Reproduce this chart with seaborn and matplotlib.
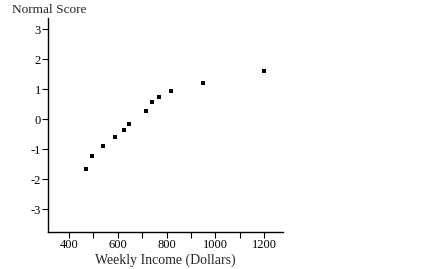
import matplotlib
matplotlib.use("Agg")
import matplotlib.pyplot as plt
import seaborn as sns
import pandas as pd
from matplotlib.ticker import FixedLocator

income = [470, 493, 540, 587, 627, 645, 715, 740, 770, 817, 948, 1201]
normal_score = [-1.66, -1.22, -0.88, -0.59, -0.35, -0.17, 0.29, 0.58, 0.75, 0.93, 1.21, 1.61]
x_ticks = [400, 600, 800, 1000, 1200]
y_ticks = [-3, -2, -1, 0, 1, 2, 3]

df = pd.DataFrame({"income": income, "score": normal_score})

sns.set_style("ticks")
plt.rcParams['font.family'] = ['Liberation Serif', 'DejaVu Serif']
plt.rcParams['axes.unicode_minus'] = False

fig = plt.figure(figsize=(4.24, 2.69), dpi=100)
ax = fig.add_axes([48/424, 37/269, 235/424, 214/269])
sns.scatterplot(data=df, x="income", y="score", ax=ax, marker="s", s=6.5,
                color="black", edgecolor="black", linewidth=0)
ax.set_xlim(314, 1277)
ax.set_ylim(-3.76, 3.38)
ax.set_xticks(x_ticks)
ax.xaxis.set_minor_locator(FixedLocator([500, 700, 900, 1100]))
ax.set_yticks(y_ticks)
ax.tick_params(axis="both", which="both", direction="out", length=4, width=0.8,
               colors="black", labelsize=9, pad=1)
for s in ["top", "right"]:
    ax.spines[s].set_visible(False)
for s in ["left", "bottom"]:
    ax.spines[s].set_linewidth(1.0)
    ax.spines[s].set_color("black")
ax.set_xlabel("Weekly Income (Dollars)", fontsize=10, labelpad=1.5)
ax.set_ylabel("")
fig.text(12/424, 1 - 10/269, "Normal Score", fontsize=9.6, ha="left", va="center")
fig.savefig("out.png", dpi=100)
